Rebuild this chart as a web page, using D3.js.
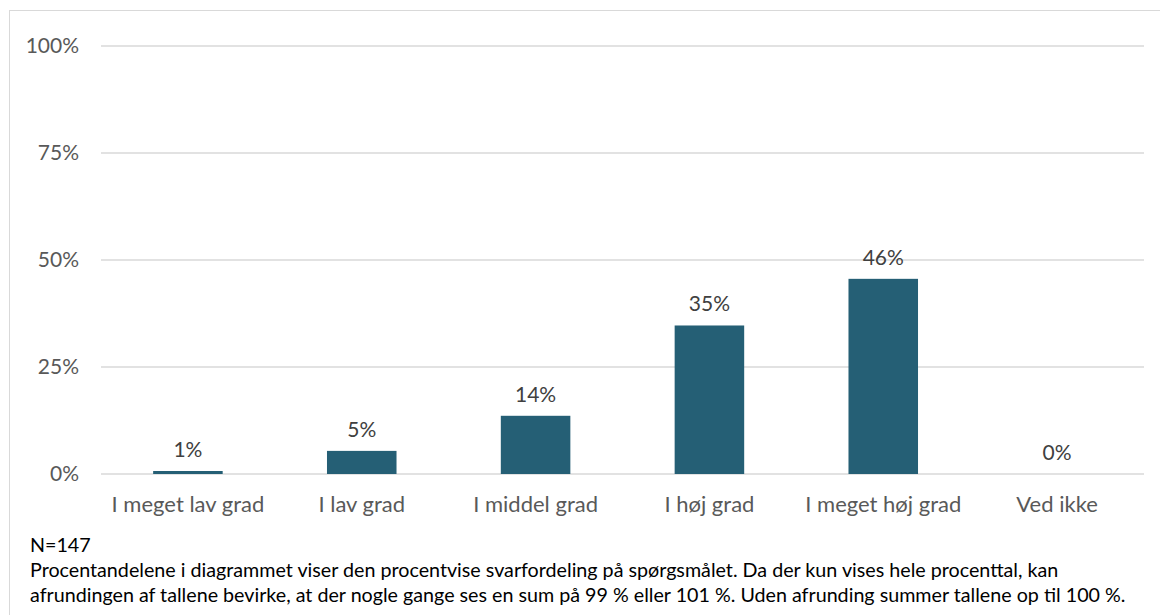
<!DOCTYPE html>
<html>
<head>
<meta charset="utf-8">
<script src="https://cdn.jsdelivr.net/npm/d3@7"></script>
<style>
  body { margin: 0; background: #fff; }
  svg text { font-family: Lato, "Open Sans", sans-serif; }
</style>
</head>
<body>
<div id="chart"></div>
<script>
// svarkategorier og andele
const categories = ["I meget lav grad", "I lav grad", "I middel grad", "I høj grad", "I meget høj grad", "Ved ikke"];
const shares = [0.007, 0.054, 0.136, 0.347, 0.456, 0];
const shareLabels = ["1%", "5%", "14%", "35%", "46%", "0%"];
const yTicks = [0, 0.25, 0.5, 0.75, 1];
const noteLines = [
    "N=147",
    "Procentandelene i diagrammet viser den procentvise svarfordeling på spørgsmålet. Da der kun vises hele procenttal, kan",
    "afrundingen af tallene bevirke, at der nogle gange ses en sum på 99 % eller 101 %. Uden afrunding summer tallene op til 100 %."
];

const WIDTH = 1160, HEIGHT = 615;
const svg = d3.select("#chart").append("svg")
    .attr("width", WIDTH)
    .attr("height", HEIGHT);

// ramme
svg.append("rect")
    .attr("x", 9.5).attr("y", 10.5)
    .attr("width", 1170).attr("height", 640)
    .attr("fill", "none")
    .attr("stroke", "#d9d9d9");

const plot = {left: 101, right: 1144, top: 46, bottom: 474};

const x = d3.scaleBand()
    .domain(categories)
    .range([plot.left, plot.right])
    .paddingInner(0.6)
    .paddingOuter(0.3);

const y = d3.scaleLinear()
    .domain([0, 1])
    .range([plot.bottom, plot.top]);

// gitterlinjer
svg.append("g")
    .selectAll("line")
    .data(yTicks)
    .enter().append("line")
    .attr("x1", plot.left).attr("x2", plot.right)
    .attr("y1", d => y(d)).attr("y2", d => y(d))
    .attr("stroke", "#d9d9d9")
    .attr("stroke-width", 1.5);

// y-akse
const yAxis = svg.append("g")
    .attr("transform", `translate(${plot.left - 22},0)`)
    .call(d3.axisLeft(y).tickValues(yTicks).tickFormat(d3.format(".0%")).tickSize(0).tickPadding(0));
yAxis.select(".domain").remove();
yAxis.selectAll("text")
    .attr("fill", "#595959")
    .style("font-size", "21px");

// x-akse
const xAxis = svg.append("g")
    .attr("transform", `translate(0,${plot.bottom})`)
    .call(d3.axisBottom(x).tickSize(0).tickPadding(22));
xAxis.select(".domain").remove();
xAxis.selectAll("text")
    .attr("fill", "#595959")
    .style("font-size", "22px");

// søjler
svg.append("g")
    .selectAll("rect")
    .data(categories)
    .enter().append("rect")
    .attr("x", d => x(d))
    .attr("width", x.bandwidth())
    .attr("y", (d, i) => y(shares[i]))
    .attr("height", (d, i) => plot.bottom - y(shares[i]))
    .attr("fill", "#255F75");

// datalabels
svg.append("g")
    .selectAll("text")
    .data(categories)
    .enter().append("text")
    .attr("x", d => x(d) + x.bandwidth() / 2)
    .attr("y", (d, i) => y(shares[i]) - 14)
    .attr("text-anchor", "middle")
    .attr("fill", "#404040")
    .style("font-size", "21px")
    .text((d, i) => shareLabels[i]);

// note
svg.append("g")
    .selectAll("text")
    .data(noteLines)
    .enter().append("text")
    .attr("x", 30)
    .attr("y", (d, i) => 552 + i * 25)
    .attr("fill", "#000")
    .style("font-size", "19.7px")
    .text(d => d);
</script>
</body>
</html>
